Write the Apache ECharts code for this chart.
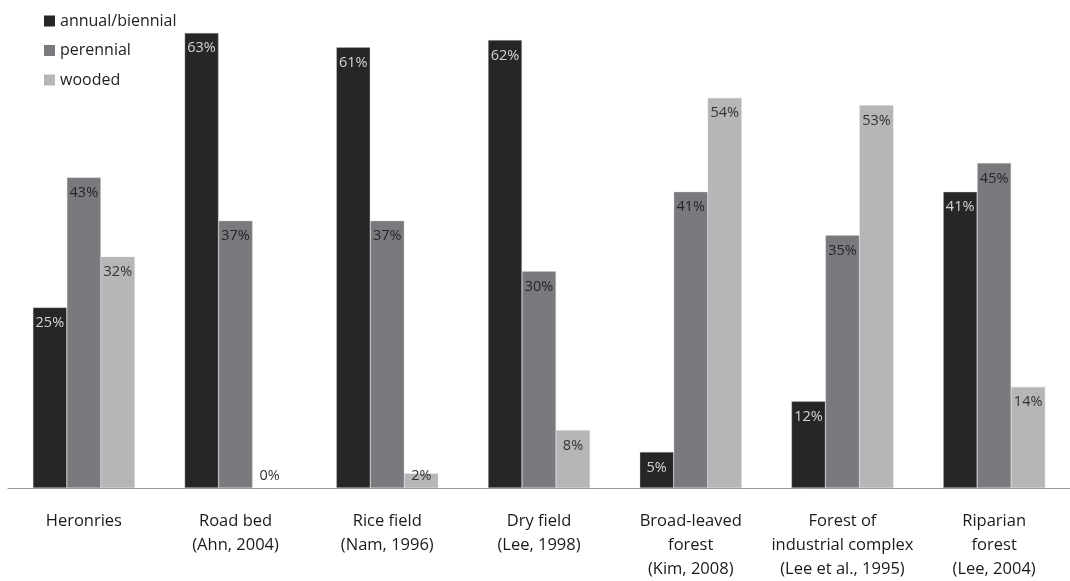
<!DOCTYPE html>
<html>
<head>
<meta charset="utf-8">
<script src="https://cdn.jsdelivr.net/npm/echarts@6/dist/echarts.min.js"></script>
<style>
html,body{margin:0;padding:0;background:#fff;}
#chart{width:1070px;height:581px;}
</style>
</head>
<body>
<div id="chart"></div>
<script>
var categories = [
  'Heronries',
  'Road bed\n(Ahn, 2004)',
  'Rice field\n(Nam, 1996)',
  'Dry field\n(Lee, 1998)',
  'Broad-leaved\nforest\n(Kim, 2008)',
  'Forest of\nindustrial complex\n(Lee et al., 1995)',
  'Riparian\nforest\n(Lee, 2004)'
];
var seriesNames = ['annual/biennial', 'perennial', 'wooded'];
var annual = [25, 63, 61, 62, 5, 12, 41];
var perennial = [43, 37, 37, 30, 41, 35, 45];
var wooded = [32, 0, 2, 8, 54, 53, 14];

var colors = ['#262626', '#797a7e', '#b5b6b8'];
var labelColors = ['#d4d4d4', '#262626', '#333333'];
var FONT = 'Open Sans';

function makeSeries(name, values, idx) {
  return {
    name: name,
    type: 'bar',
    barWidth: 34,
    barGap: '0%',
    itemStyle: { color: colors[idx], borderColor: 'rgba(200,200,200,0.6)', borderWidth: 0.6 },
    data: values.map(function (v) {
      var small = v < 3;
      return {
        value: v,
        itemStyle: v === 0 ? { borderWidth: 0 } : undefined,
        label: {
          show: true,
          position: small ? 'insideBottom' : 'insideTop',
          distance: small ? 5 : 8,
          color: small ? '#333333' : labelColors[idx]
        }
      };
    }),
    label: {
      show: true,
      formatter: '{c}%',
      fontFamily: FONT,
      fontSize: 14.5
    }
  };
}

var chart = echarts.init(document.getElementById('chart'));
chart.setOption({
  animation: false,
  color: colors,
  legend: {
    orient: 'vertical',
    left: 39,
    top: 7,
    itemWidth: 11,
    itemHeight: 11,
    itemGap: 11.5,
    itemStyle: { borderWidth: 0 },
    icon: 'rect',
    textStyle: { fontFamily: FONT, fontSize: 16, color: '#222', lineHeight: 18 },
    data: seriesNames
  },
  grid: { left: 8, right: 0, top: 18.4, height: 470.6, containLabel: false },
  xAxis: {
    type: 'category',
    data: categories,
    axisLine: { lineStyle: { color: '#999', width: 1 } },
    axisTick: { length: 7, lineStyle: { color: '#999' } },
    axisLabel: { fontFamily: FONT, fontSize: 16.5, color: '#1a1a1a', lineHeight: 24, margin: 21, interval: 0 }
  },
  yAxis: {
    type: 'value',
    min: 0,
    max: 65,
    show: false,
    splitLine: { show: false }
  },
  series: [
    makeSeries(seriesNames[0], annual, 0),
    makeSeries(seriesNames[1], perennial, 1),
    makeSeries(seriesNames[2], wooded, 2)
  ]
});
</script>
</body>
</html>
